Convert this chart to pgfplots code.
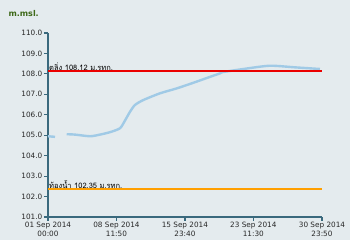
\documentclass[border=0pt]{standalone}
\usepackage{pgfplots}
\pgfplotsset{compat=1.18}
\usepackage{fontspec}
\setmainfont{DejaVu Sans}
\newfontfamily\thaifont[Script=Thai]{Loma}
\definecolor{bgcol}{RGB}{228,235,238}
\definecolor{axcol}{RGB}{58,105,125}
\definecolor{linecol}{RGB}{160,202,230}
\definecolor{titlecol}{RGB}{62,105,25}
\definecolor{txt}{RGB}{40,40,40}
\colorlet{thresha}{red!92!black}
\colorlet{threshb}{orange!75!yellow}
\begin{document}
\begin{tikzpicture}
\fill[bgcol] (-48pt,-23pt) rectangle (302pt,217pt);
\begin{axis}[
  at={(0,0)}, anchor=south west,
  scale only axis, width=274pt, height=184pt,
  xmin=0, xmax=29.993, ymin=101, ymax=110,
  axis x line=bottom, axis y line=left,
  axis line style={-, axcol, line width=1.2pt},
  tick style={axcol, line width=1.2pt},
  tick align=outside, major tick length=4pt,
  ytick={101,102,...,110},
  xtick={0,7.493,14.986,22.479,29.993},
  xticklabels={{01 Sep 2014\\00:00},{08 Sep 2014\\11:50},{15 Sep 2014\\23:40},{23 Sep 2014\\11:30},{30 Sep 2014\\23:50}},
  xticklabel style={align=center, font=\fontsize{7.3}{8.5}\selectfont, text=txt, inner sep=1pt},
  yticklabel style={font=\fontsize{7.3}{8.5}\selectfont, text=txt, inner sep=1.5pt},
  /pgf/number format/assume math mode=true,
  yticklabel={\pgfmathprintnumber[fixed,precision=1,fixed zerofill]{\tick}},
  clip=false,
]
\addplot[draw=linecol, line width=2.4pt, no marks] coordinates {(0,104.95) (0.77,104.92)};
\addplot[draw=linecol, line width=2.4pt, no marks, smooth, tension=0.4] coordinates {
(2.05,105.05) (2.96,105.03) (4.60,104.95) (5.69,105.03) (6.79,105.15)
(7.88,105.34) (8.43,105.72) (8.98,106.15) (9.52,106.48) (10.43,106.72)
(12.26,107.05) (14.09,107.29) (15.94,107.57) (17.77,107.86) (18.86,108.03)
(19.16,108.09) (21.56,108.25) (24.30,108.40) (27.04,108.32) (29.77,108.24)};
\addplot[thresha, line width=2pt, no marks] coordinates {(0,108.12) (29.993,108.12)};
\addplot[threshb, line width=2pt, no marks] coordinates {(0,102.35) (29.993,102.35)};
\node[anchor=south west, inner sep=1pt, font=\thaifont\fontsize{7.5}{9}\selectfont] at (axis cs:0,108.12) {ตลิ่ง 108.12 ม.รทก.};
\node[anchor=south west, inner sep=1pt, font=\thaifont\fontsize{7.5}{9}\selectfont] at (axis cs:0,102.35) {ท้องน้ำ 102.35 ม.รทก.};
\end{axis}
\node[font=\bfseries\fontsize{8}{9}\selectfont, text=titlecol, anchor=west] at (-43pt,203pt) {m.msl.};
\pgfresetboundingbox
\path (-48pt,-23pt) rectangle (302pt,217pt);
\end{tikzpicture}
\end{document}
